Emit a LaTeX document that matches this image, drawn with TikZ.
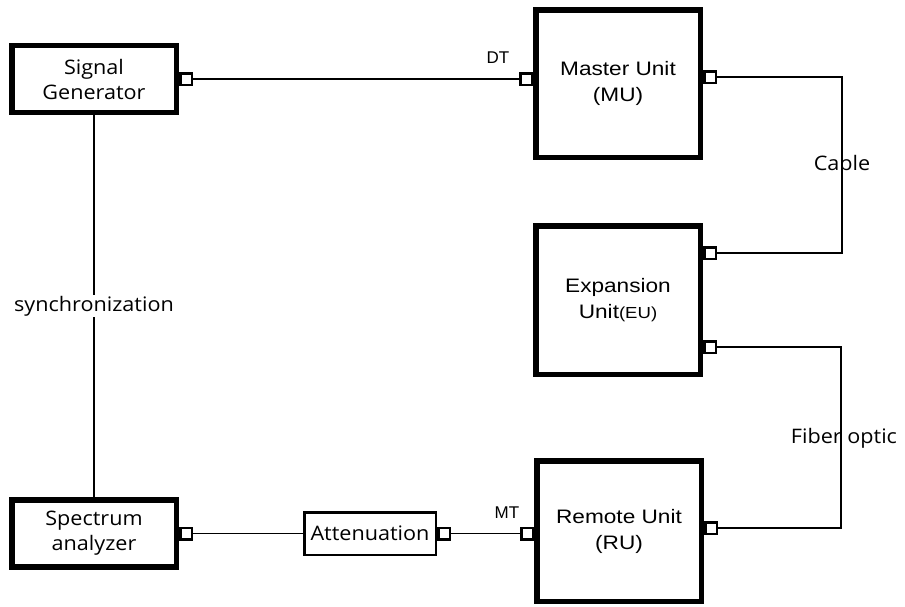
\documentclass[tikz,border=0pt]{standalone}
\usepackage{fontspec}
\setmainfont{Liberation Sans}
\newfontfamily\unitfont[FakeStretch=1.16]{Liberation Sans}
\newfontfamily\boxfont[FakeStretch=1.08]{Open Sans}
\usetikzlibrary{positioning,calc}

\begin{document}
\begin{tikzpicture}[
    x=1pt, y=-1pt,
    unit/.style={draw, line width=5.5pt, minimum width=164.5pt, align=center, inner sep=0pt, font=\unitfont\fontsize{19.5}{26}\selectfont},
    instr/.style={draw, line width=5.5pt, minimum width=164.5pt, minimum height=67pt, align=center, inner sep=0pt, font=\boxfont\fontsize{20}{25}\selectfont},
    atten/.style={draw, line width=2.5pt, minimum width=131.5pt, minimum height=42.5pt, inner sep=0pt, font=\boxfont\fontsize{20}{25}\selectfont},
    port/.style={draw, line width=2.5pt, fill=white, minimum size=11.5pt, inner sep=0pt},
    link/.style={line width=1.8pt},
    tag/.style={font=\boxfont\fontsize{20}{24}\selectfont, inner sep=1pt},
    pin/.style={font=\fontsize{17}{20}\selectfont, inner sep=1pt},
]
\useasboundingbox (0,0) rectangle (905,606);

% instruments
\node[instr] (sg) at (94,79) {Signal\\Generator};
\node[instr] (sa) at (94,533.5) {Spectrum\\analyzer};
\node[atten] (att) at (370,533.5) {Attenuation};

% DAS units
\node[unit, minimum height=147.5pt] (mu) at (618,83.5) {Master Unit\\(MU)};
\node[unit, minimum height=148.5pt] (eu) at (618,300) {Expansion\\Unit{\fontsize{16}{26}\selectfont(EU)}};
\node[unit, minimum height=140.5pt] (ru) at (619,531) {Remote Unit\\(RU)};

% ports
\node[port, anchor=west] (sgP) at (sg.east) {};
\node[port, anchor=west] (saP) at (sa.east) {};
\node[port, anchor=west] (attP) at (att.east) {};
\node[port, anchor=east] (muA) at (mu.west |- sgP) {};
\node[port, anchor=west] (muB) at ([yshift=6.5pt]mu.east) {};
\node[port, anchor=west] (euA) at ([yshift=47pt]eu.east) {};
\node[port, anchor=west] (euB) at ([yshift=-47pt]eu.east) {};
\node[port, anchor=west] (ruB) at ([yshift=3pt]ru.east) {};
\node[port, anchor=east] (ruA) at (ru.west |- attP) {};

% links
\coordinate (cab) at (842,253);
\coordinate (fib) at (841,347);
\draw[link] (sgP.east) -- (muA.west);
\draw[link] (muB.east) -| (cab) -- (euA.east);
\draw[link] (euB.east) -- (fib) |- (ruB.east);
\draw[link] (sg) -- (sa) node[tag, midway, fill=white] {synchronization};
\draw[link] (saP.east) -- (att.west);
\draw[link] (attP.east) -- (ruA.west);

% labels
\node[pin] (dt) at (498,58) {DT};
\node[pin] (mt) at (507,513) {MT};
\node[tag] (cable) at (842,163) {Cable};
\node[tag] (fiber) at (844,438) {Fiber optic};
\end{tikzpicture}
\end{document}
